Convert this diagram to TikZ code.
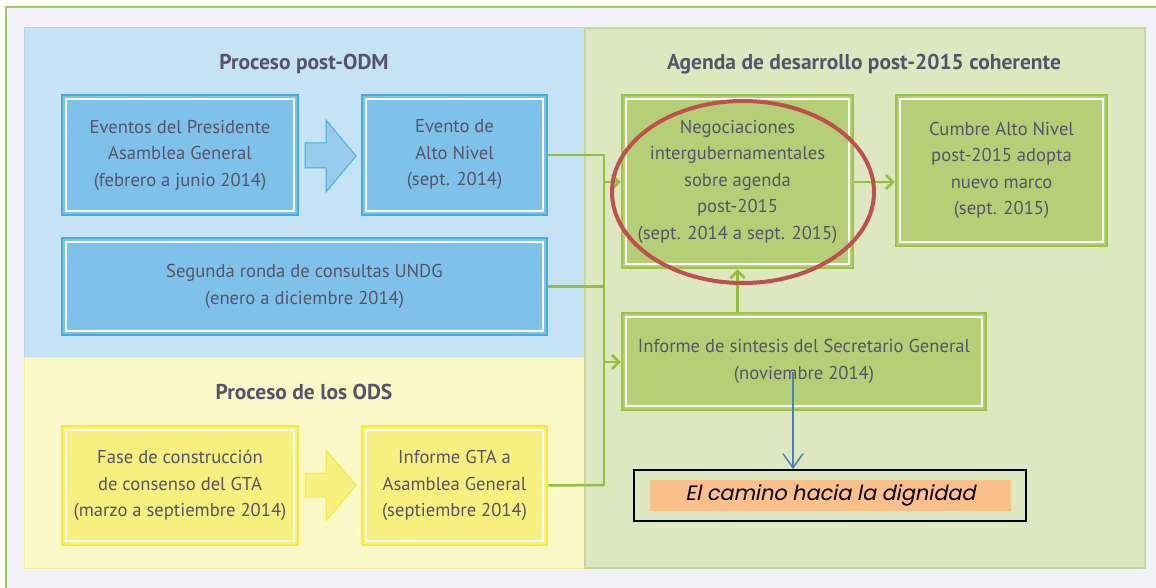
\documentclass[tikz,border=0pt]{standalone}
\usepackage{fontspec}
\setmainfont{PT Sans}
\newfontfamily\gothic[FakeSlant=0.2]{Poppins}
\usetikzlibrary{arrows.meta,shapes.geometric}
\definecolor{bgl}{HTML}{F2F0F8}
\definecolor{frame}{HTML}{A6C75A}
\definecolor{bpanel}{HTML}{C6E3F5}
\definecolor{bpanelb}{HTML}{B0D6EE}
\definecolor{bfill}{HTML}{7EC1E9}
\definecolor{bbord}{HTML}{45ADE4}
\definecolor{ypanel}{HTML}{FAF8C7}
\definecolor{ypanelb}{HTML}{F3EE9A}
\definecolor{yfill}{HTML}{F8F07E}
\definecolor{ybord}{HTML}{F5EA3A}
\definecolor{gpanel}{HTML}{DEE8C0}
\definecolor{gpanelb}{HTML}{C5D99A}
\definecolor{gfill}{HTML}{B4CF76}
\definecolor{gbord}{HTML}{9CC442}
\definecolor{conn}{HTML}{92C03E}
\definecolor{txt}{HTML}{57536A}
\definecolor{orng}{HTML}{FBBF8C}
\definecolor{redell}{HTML}{C0504D}
\definecolor{barrow}{HTML}{4A7EBF}
\begin{document}
\begin{tikzpicture}[x=1pt,y=-1pt,
  box/.style={rectangle, inner sep=0pt, line width=2.5pt, text=txt, align=center,
    font=\fontsize{18.6}{26.5}\selectfont,
    path picture={\draw[white, line width=1.5pt]
      ([shift={(4pt,4pt)}]path picture bounding box.south west) rectangle
      ([shift={(-4pt,-4pt)}]path picture bounding box.north east);}},
  bluebox/.style={box, fill=bfill, draw=bbord},
  yelbox/.style={box, fill=yfill, draw=ybord},
  grnbox/.style={box, fill=gfill, draw=gbord},
  header/.style={text=txt, font=\bfseries\fontsize{21.5}{25}\selectfont},
  link/.style={draw=conn, line width=2.5pt},
  linkarrow/.style={link, -{Straight Barb[length=7pt,width=14pt,line width=2.5pt]}},
]
\useasboundingbox (0,0) rectangle (1156,588);
\fill[white] (0,0) rectangle (1156,588);
\fill[bgl] (6,7) rectangle (1156,588);
\draw[frame, line width=2pt] (6,588) -- (6,7) -- (1156,7);

% panels
\filldraw[fill=bpanel, draw=bpanelb, line width=1pt] (24,28) rectangle (585,357);
\filldraw[fill=ypanel, draw=ypanelb, line width=1pt] (24,357) rectangle (585,568);
\filldraw[fill=gpanel, draw=gpanelb, line width=1.5pt] (585,28) rectangle (1145,568);

% headers
\node[header] (h1) at (304,64) {Proceso post-ODM};
\node[header] (h2) at (304,392) {Proceso de los ODS};
\node[header] (h3) at (864,64) {Agenda de desarrollo post-2015 coherente};

% boxes
\node[bluebox, minimum width=236pt, minimum height=120pt] (b1) at (180,155)
  {Eventos del Presidente\\Asamblea General\\(febrero a junio 2014)};
\node[bluebox, minimum width=185pt, minimum height=120pt] (b2) at (454.5,155)
  {Evento de\\Alto Nivel\\(sept. 2014)};
\node[bluebox, minimum width=485pt, minimum height=97pt] (b3) at (304.5,286.5)
  {Segunda ronda de consultas UNDG\\(enero a diciembre 2014)};
\node[yelbox, minimum width=236pt, minimum height=119pt] (y1) at (180,485.5)
  {Fase de construcción\\de consenso del GTA\\(marzo a septiembre 2014)};
\node[yelbox, minimum width=185pt, minimum height=119pt] (y2) at (454.5,485.5)
  {Informe GTA a\\Asamblea General\\(septiembre 2014)};
\node[grnbox, minimum width=231pt, minimum height=173pt] (g1) at (737.5,181.5)
  {Negociaciones\\intergubernamentales\\sobre agenda\\post-2015\\(sept. 2014 a sept. 2015)};
\node[grnbox, minimum width=211pt, minimum height=151pt] (g2) at (1001.5,170.5)
  {Cumbre Alto Nivel\\post-2015 adopta\\nuevo marco\\(sept. 2015)};
\node[grnbox, minimum width=364pt, minimum height=97pt] (g3) at (804,361.5)
  {Informe de sintesis del Secretario General\\(noviembre 2014)};

% block arrows
\filldraw[fill=bfill!80!white, draw=bbord, line width=1pt]
  (305,143) -- (326,143) -- (326,120) -- (356,156) -- (326,192) -- (326,168) -- (305,168) -- cycle;
\filldraw[fill=yfill, draw=ybord, line width=1pt]
  (305,473) -- (326,473) -- (326,450) -- (356,485.5) -- (326,521) -- (326,497) -- (305,497) -- cycle;

% bus connectors
\coordinate (bustop) at (604,155);
\coordinate (busbot) at (604,485);
\coordinate (busg1) at (604,182);
\coordinate (busg3) at (604,362);
\draw[link] (b2.east) -- (bustop);
\draw[link] (b3.east) -- (b3.east -| bustop);
\draw[link] (y2.east) -- (busbot);
\draw[link, line cap=rect] (bustop) -- (busbot);
\draw[linkarrow] (busg1) -- (busg1 -| g1.west);
\draw[linkarrow] (busg3) -- (busg3 -| g3.west);
\draw[linkarrow] (g1.east |- busg1) -- (busg1 -| g2.west);
\draw[linkarrow] (g3.north -| g1.south) -- (g1.south);

% red ellipse
\node[draw=redell, line width=4pt, ellipse, minimum width=262pt, minimum height=182pt, inner sep=0pt] (ell) at (743,192) {};

% result box
\node[draw=black, line width=2pt, minimum width=392pt, minimum height=51pt, inner sep=0pt] (res) at (830,495.5) {};
\node[fill=orng, minimum width=361pt, minimum height=31pt, inner sep=0pt, font=\gothic\fontsize{20.8}{24}\selectfont, text=black] (lbl) at (830.5,495.5) {El camino hacia la dignidad};

\coordinate (bstart) at (793,372);
\draw[barrow, line width=1.5pt, -{Straight Barb[length=14pt,width=20pt,line width=1.5pt]}] (bstart) -- (bstart |- res.north);
\end{tikzpicture}
\end{document}
